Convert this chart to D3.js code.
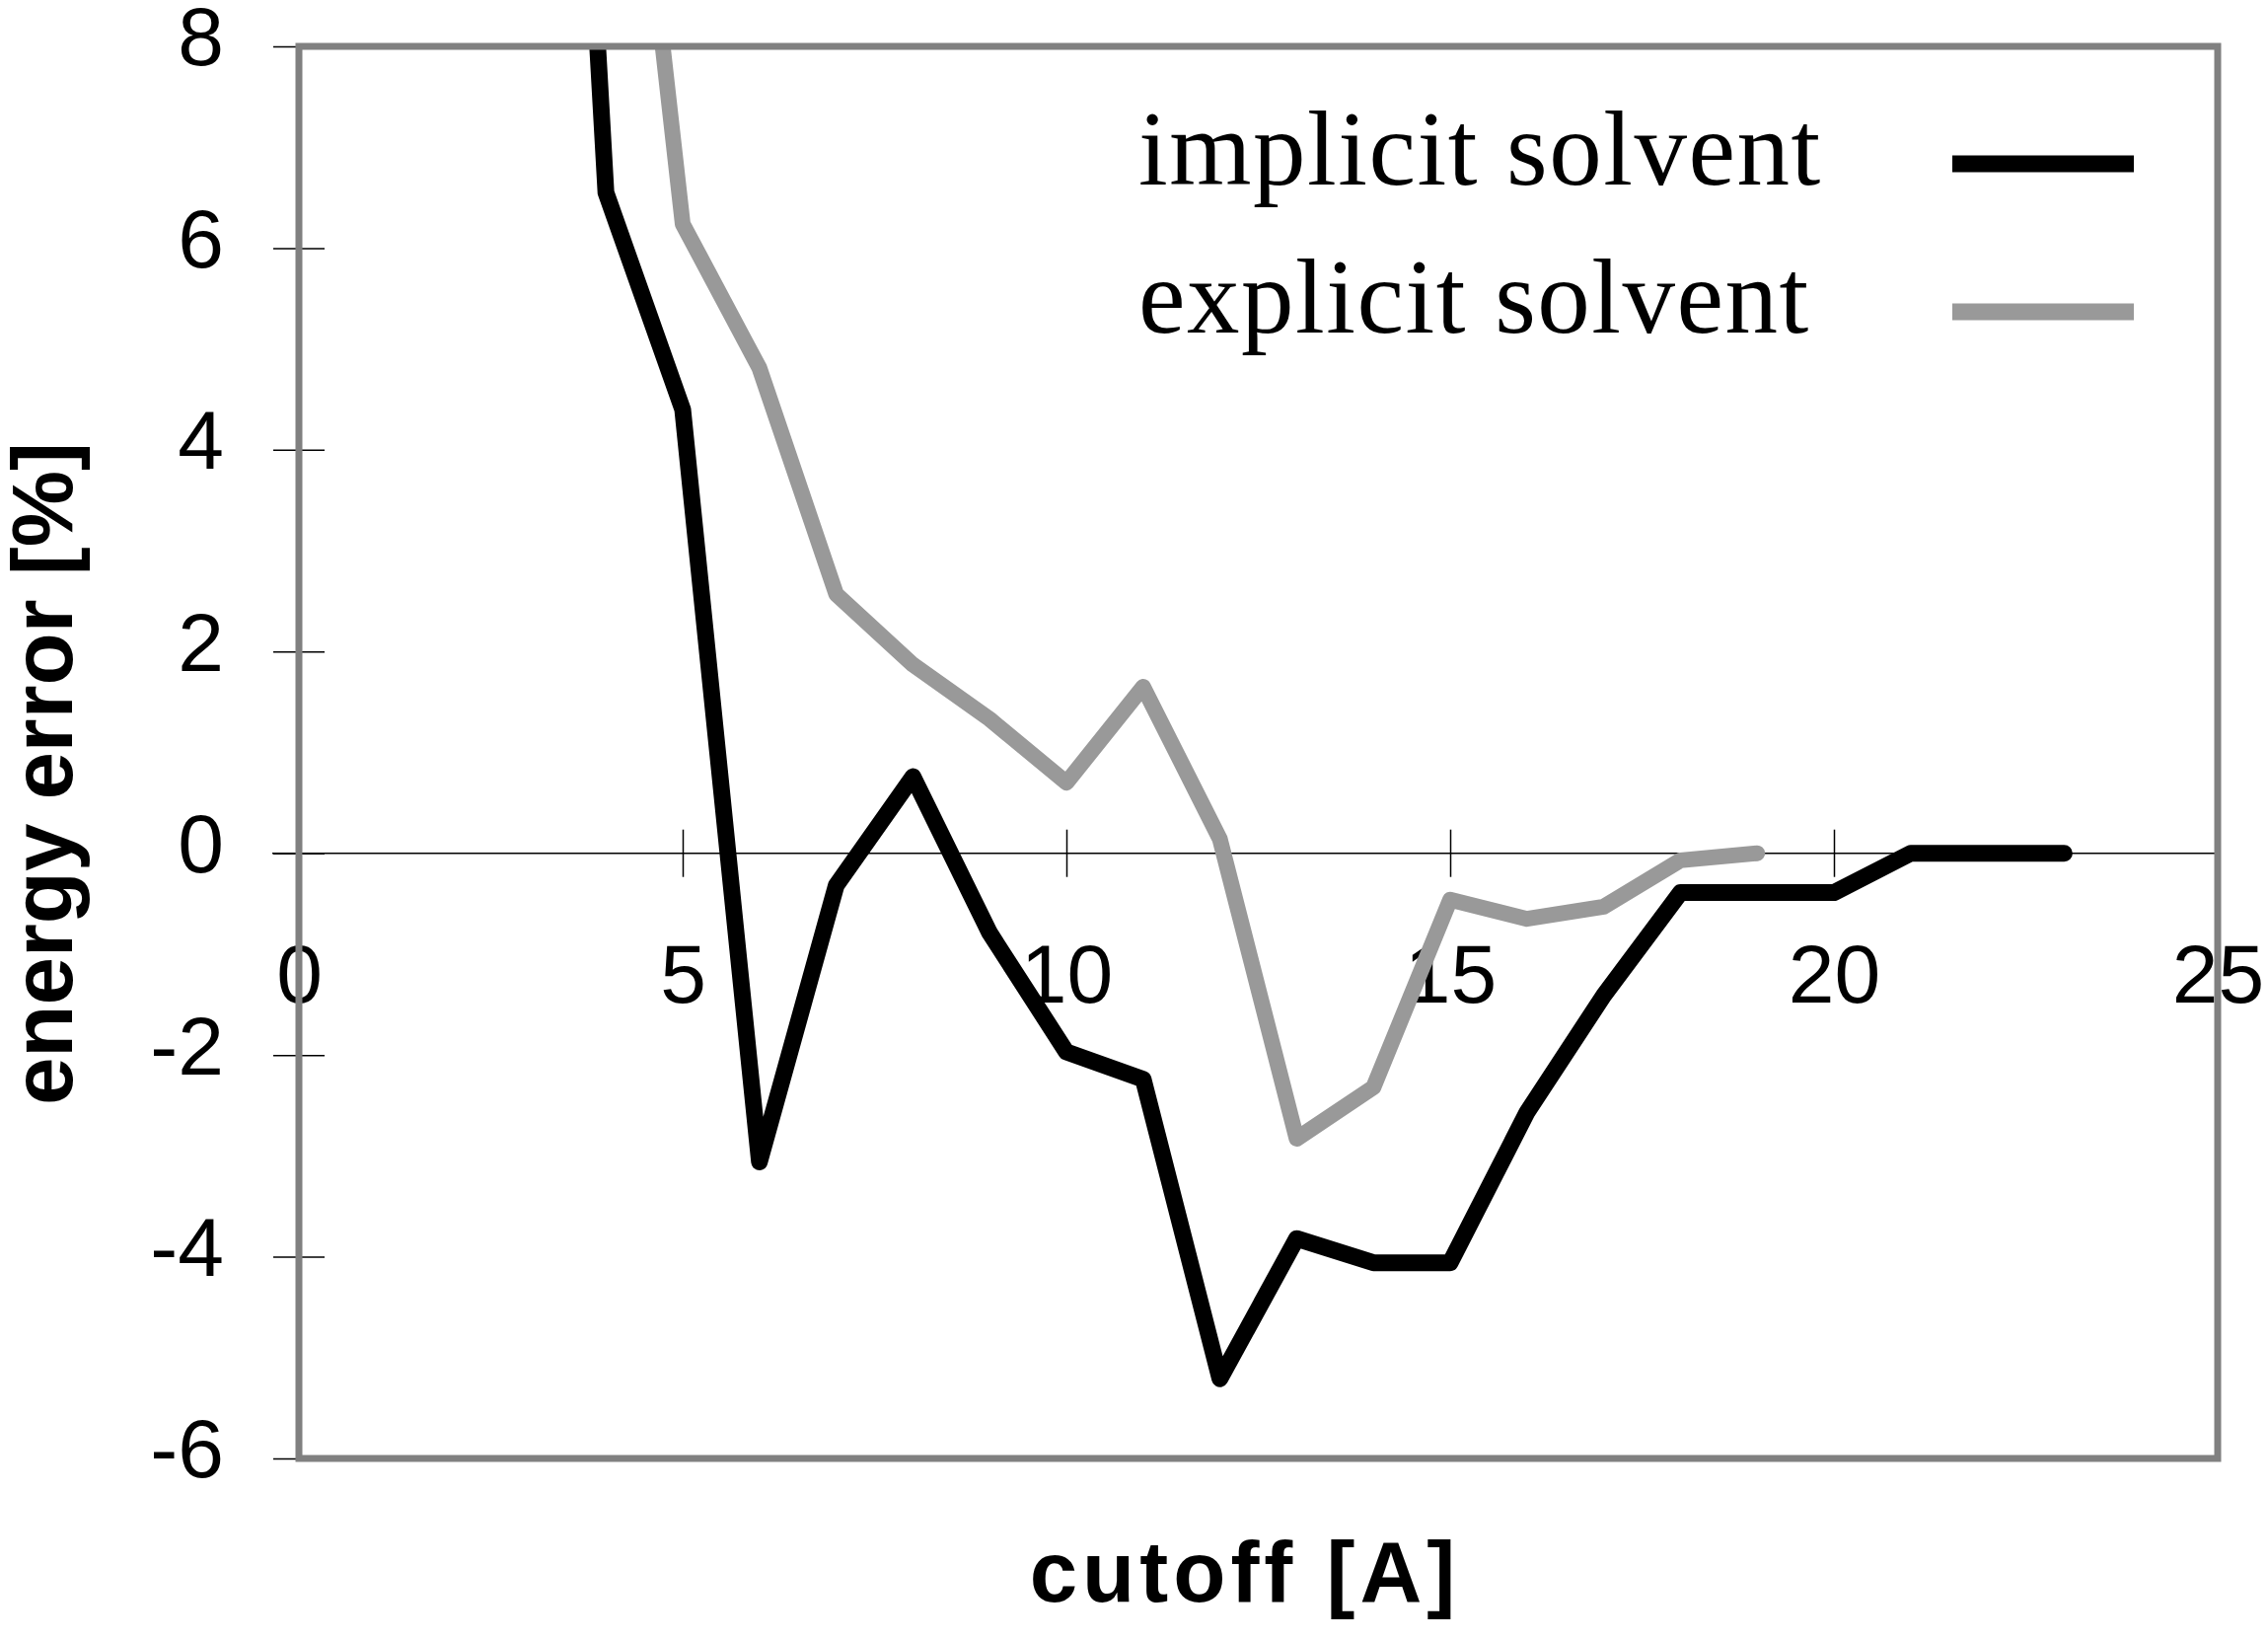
<!DOCTYPE html>
<html>
<head>
<meta charset="utf-8">
<script src="https://d3js.org/d3.v7.min.js"></script>
<style>
  body { margin: 0; background: #fff; }
  svg { display: block; }
</style>
</head>
<body>
<div id="chart"></div>
<script>
// data
var cutoffImplicit = [3, 4, 5, 6, 7, 8, 9, 10, 11, 12, 13, 14, 15, 16, 17, 18, 19, 20, 21, 22, 23];
var errorImplicit  = [20, 6.55, 4.4, -3.06, -0.32, 0.76, -0.79, -1.97, -2.24, -5.21, -3.82, -4.06, -4.06, -2.57, -1.41, -0.39, -0.39, -0.39, 0, 0, 0];
var cutoffExplicit = [4, 5, 6, 7, 8, 9, 10, 11, 12, 13, 14, 15, 16, 17, 18, 19];
var errorExplicit  = [13, 6.24, 4.81, 2.57, 1.87, 1.33, 0.7, 1.65, 0.14, -2.83, -2.32, -0.46, -0.65, -0.53, -0.07, 0];
var xTicks = [0, 5, 10, 15, 20, 25];
var yTicks = [-6, -4, -2, 0, 2, 4, 6, 8];
var seriesNames = ["implicit solvent", "explicit solvent"];
var seriesColors = ["#000000", "#999999"];

var margin = {top: 47, right: 51, bottom: 185, left: 303},
    width = 2299 - margin.left - margin.right,
    height = 1663 - margin.top - margin.bottom;

var svg = d3.select("#chart")
  .append("svg")
    .attr("width", 2299)
    .attr("height", 1663)
  .append("g")
    .attr("transform", "translate(" + margin.left + "," + margin.top + ")");

var x = d3.scaleLinear().domain([0, 25]).range([0, width]);
var y = d3.scaleLinear().domain([-6, 8]).range([height, 0]);

svg.append("clipPath").attr("id", "plotclip")
  .append("rect").attr("width", width).attr("height", height);

// y axis with crossing ticks
var yAxis = svg.append("g")
  .call(d3.axisLeft(y).tickValues(yTicks).tickSize(26).tickFormat(function(d) { return String(d); }));
yAxis.select(".domain").remove();
yAxis.selectAll(".tick line").attr("x1", -26).attr("x2", 26).attr("stroke", "#000").attr("stroke-width", 1.5);
yAxis.selectAll(".tick text")
  .attr("x", -76).attr("dy", "0.32em").attr("y", -8)
  .style("font-family", "'Liberation Sans', Arial, sans-serif")
  .style("font-size", "84px").attr("fill", "#000");

// x axis along zero
var xAxis = svg.append("g")
  .attr("transform", "translate(0," + y(0) + ")")
  .call(d3.axisBottom(x).tickValues(xTicks).tickSize(24));
xAxis.select(".domain").remove();
xAxis.append("line")
  .attr("x1", x(0) - 27).attr("x2", x(25))
  .attr("stroke", "#000").attr("stroke-width", 1.5);
xAxis.selectAll(".tick line").attr("y1", -24).attr("y2", 24).attr("stroke", "#000").attr("stroke-width", 1.5);
xAxis.selectAll(".tick text")
  .attr("y", 151).attr("dy", 0)
  .style("font-family", "'Liberation Sans', Arial, sans-serif")
  .style("font-size", "84px").attr("fill", "#000");

// lines
var line = d3.line()
  .x(function(d) { return x(d[0]); })
  .y(function(d) { return y(d[1]); });

var plot = svg.append("g").attr("clip-path", "url(#plotclip)");

plot.append("path")
  .datum(d3.zip(cutoffExplicit, errorExplicit))
  .attr("fill", "none")
  .attr("stroke", seriesColors[1])
  .attr("stroke-width", 16)
  .attr("stroke-linejoin", "round")
  .attr("stroke-linecap", "round")
  .attr("d", line);

plot.append("path")
  .datum(d3.zip(cutoffImplicit, errorImplicit))
  .attr("fill", "none")
  .attr("stroke", seriesColors[0])
  .attr("stroke-width", 17)
  .attr("stroke-linejoin", "round")
  .attr("stroke-linecap", "round")
  .attr("d", line);

// plot border
svg.append("rect")
  .attr("width", width).attr("height", height)
  .attr("fill", "none")
  .attr("stroke", "#808080")
  .attr("stroke-width", 7);

// legend
var legend = svg.selectAll(".legend")
  .data(seriesNames)
  .enter().append("g")
    .attr("class", "legend")
    .attr("transform", function(d, i) { return "translate(0," + (i * 150) + ")"; });

legend.append("text")
  .attr("x", 851).attr("y", 140)
  .style("font-family", "'Liberation Serif', 'Times New Roman', serif")
  .style("font-size", "107px")
  .style("letter-spacing", "1.5px")
  .attr("fill", "#000")
  .text(function(d) { return d; });

legend.append("line")
  .attr("x1", 1676).attr("x2", 1860)
  .attr("y1", 119).attr("y2", 119)
  .attr("stroke", function(d, i) { return seriesColors[i]; })
  .attr("stroke-width", 17);

// axis titles
svg.append("text")
  .attr("text-anchor", "middle")
  .attr("x", 959).attr("y", 1576)
  .style("font-family", "'Liberation Sans', Arial, sans-serif")
  .style("font-weight", "bold")
  .style("font-size", "87px")
  .style("letter-spacing", "5px")
  .text("cutoff [A]");

svg.append("text")
  .attr("text-anchor", "middle")
  .attr("transform", "translate(-230," + 737 + ") rotate(-90)")
  .style("font-family", "'Liberation Sans', Arial, sans-serif")
  .style("font-weight", "bold")
  .style("font-size", "87px")
  .text("energy error [%]");
</script>
</body>
</html>
